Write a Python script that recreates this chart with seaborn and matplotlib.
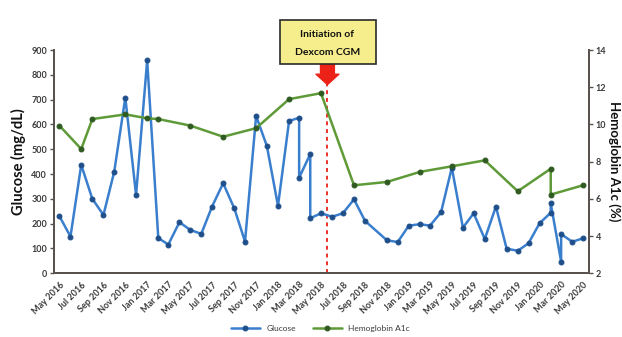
import pandas as pd
import matplotlib
import matplotlib.pyplot as plt
import matplotlib.dates as mdates
from matplotlib.patches import Rectangle
import seaborn as sns
matplotlib.use('Agg')

# данные: глюкоза (мг/дл) по месяцам, повторы месяца = два замера
glucose_months = ['2016-05', '2016-06', '2016-07', '2016-08', '2016-09', '2016-10',
                  '2016-11', '2016-12', '2017-01', '2017-02', '2017-03', '2017-04',
                  '2017-05', '2017-06', '2017-07', '2017-08', '2017-09', '2017-10',
                  '2017-11', '2017-12', '2018-01', '2018-02', '2018-03', '2018-03',
                  '2018-04', '2018-04', '2018-05', '2018-06', '2018-07', '2018-08',
                  '2018-09', '2018-11', '2018-12', '2019-01', '2019-02', '2019-03',
                  '2019-04', '2019-05', '2019-06', '2019-07', '2019-08', '2019-09',
                  '2019-10', '2019-11', '2019-12', '2020-01', '2020-02', '2020-02',
                  '2020-03', '2020-03', '2020-04', '2020-05']
glucose_values = [231, 148, 437, 300, 235, 409, 708, 316, 858, 142, 116, 206,
                  175, 159, 269, 363, 262, 128, 634, 513, 272, 614, 627, 385,
                  481, 222, 242, 228, 242, 298, 211, 133, 126, 192, 198, 192,
                  246, 426, 184, 242, 138, 269, 99, 91, 121, 202, 244, 282,
                  47, 158, 127, 141]

# гемоглобин A1c (%)
a1c_months = ['2016-05', '2016-07', '2016-08', '2016-11', '2017-01', '2017-02',
              '2017-05', '2017-08', '2017-11', '2018-02', '2018-05', '2018-08',
              '2018-11', '2019-02', '2019-05', '2019-08', '2019-11', '2020-02',
              '2020-02', '2020-05']
a1c_values = [9.94, 8.68, 10.29, 10.54, 10.33, 10.29, 9.94, 9.34, 9.80, 11.36,
              11.68, 6.73, 6.91, 7.45, 7.75, 8.07, 6.41, 7.62, 6.23, 6.73]

tick_months = ['2016-05', '2016-07', '2016-09', '2016-11', '2017-01', '2017-03',
               '2017-05', '2017-07', '2017-09', '2017-11', '2018-01', '2018-03',
               '2018-05', '2018-07', '2018-09', '2018-11', '2019-01', '2019-03',
               '2019-05', '2019-07', '2019-09', '2019-11', '2020-01', '2020-03',
               '2020-05']
cgm_start = '2018-06-03'

mid = pd.Timedelta(days=15)
glu = pd.DataFrame({'date': pd.to_datetime(glucose_months) + mid, 'value': glucose_values})
a1c = pd.DataFrame({'date': pd.to_datetime(a1c_months) + mid, 'value': a1c_values})
ticks = pd.to_datetime(tick_months) + mid

sns.set_theme(style='white')
plt.rcParams['font.family'] = ['Lato', 'DejaVu Sans']
plt.rcParams['font.weight'] = 'bold'

blue = '#3a7fce'
green = '#5e9a38'
axis_c = '#5a524e'
txt_c = '#3a3a3a'

fig = plt.figure(figsize=(6.22, 3.37), dpi=100)
ax = fig.add_axes([0.0868, 0.189, 0.8597, 0.6626])
ax2 = ax.twinx()

sns.lineplot(data=glu, x='date', y='value', ax=ax, estimator=None, sort=False,
             color=blue, lw=1.8, marker='o', ms=3.5, mfc='#1f4f8a', mec='#1f4f8a',
             label='Glucose', legend=False)
sns.lineplot(data=a1c, x='date', y='value', ax=ax2, estimator=None, sort=False,
             color=green, lw=1.8, marker='o', ms=3.5, mfc='#2f5a22', mec='#2f5a22',
             label='Hemoglobin A1c', legend=False)

ax.set_xlim(pd.Timestamp('2016-05-01'), pd.Timestamp('2020-06-01'))
ax.set_ylim(0, 900)
ax2.set_ylim(2, 14)
ax.set_yticks(range(0, 901, 100))
ax2.set_yticks(range(2, 15, 2))
ax.set_xticks(ticks)
ax.xaxis.set_major_formatter(mdates.DateFormatter('%b %Y'))

for a in (ax, ax2):
    for s in a.spines.values():
        s.set_color(axis_c)
        s.set_linewidth(1.4)
    a.spines['top'].set_visible(False)
    a.tick_params(colors=axis_c, labelcolor=txt_c, labelsize=6.5, length=3, width=1, pad=2)

plt.setp(ax.get_xticklabels(), rotation=45, ha='right', rotation_mode='anchor')

ax.set_xlabel('')
ax.set_ylabel('Glucose (mg/dL)', fontsize=10.5, fontweight='bold', color='#111111',
              va='center')
ax.yaxis.set_label_coords(-0.066, 0.5)
ax2.set_ylabel('Hemoglobin A1c (%)', fontsize=9.5, fontweight='bold', color='#111111',
               rotation=270, va='center')
ax2.yaxis.set_label_coords(1.048, 0.5)

# линия начала CGM
ax.axvline(pd.Timestamp(cgm_start), color='#e8332a', ls=(0, (2, 2)), lw=1.4, zorder=1)

# стрелка и подпись
ax.annotate('', xy=(pd.Timestamp(cgm_start), 0.845), xycoords=('data', 'axes fraction'),
            xytext=(pd.Timestamp(cgm_start), 0.935), textcoords=('data', 'axes fraction'),
            arrowprops=dict(arrowstyle='simple,head_length=0.75,head_width=1.65,tail_width=1.0',
                            fc='#ec2218', ec='#ec2218', mutation_scale=10,
                            shrinkA=0, shrinkB=0), zorder=6, annotation_clip=False)
fig.patches.append(Rectangle((0.4494, 0.810), 0.1543, 0.1306, transform=fig.transFigure,
                             fc='#f6ee8c', ec='#2a2a2a', lw=1.2, zorder=5))
fig.text(0.5265, 0.898, 'Initiation of', ha='center', va='center', fontsize=7.5,
         fontweight='bold', color='#111111', zorder=7)
fig.text(0.5265, 0.843, 'Dexcom CGM', ha='center', va='center', fontsize=7.5,
         fontweight='bold', color='#111111', zorder=7)

h1, l1 = ax.get_legend_handles_labels()
h2, l2 = ax2.get_legend_handles_labels()
fig.legend(h1 + h2, l1 + l2, loc='center', bbox_to_anchor=(0.515, 0.025), ncol=2,
           frameon=False, handlelength=3.5, columnspacing=2,
           labelcolor=txt_c, prop={'size': 6, 'weight': 'normal'})

fig.savefig('out.png', dpi=100)
